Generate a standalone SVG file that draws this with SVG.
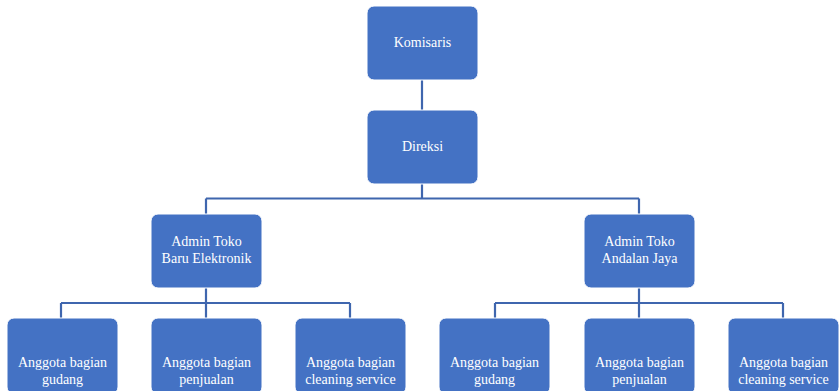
<svg xmlns="http://www.w3.org/2000/svg" width="839" height="391" viewBox="0 0 839 391">
<style>
.box{fill:#4472C4;stroke:#ffffff;stroke-width:1}
.t{font-family:"Liberation Serif","Times New Roman",serif;font-size:14px;fill:#ffffff;text-anchor:middle}
.c{fill:none;stroke:#3F66AE;stroke-width:2.2}
</style>
<g id="connectors">
<path class="c" d="M422,80 V110"/>
<path class="c" d="M422,184 V198.5 M206,198.5 H639 M206,198.5 V214 M639,198.5 V214"/>
<path class="c" d="M206,288 V318 M61,303 H350 M61,303 V318 M350,303 V318"/>
<path class="c" d="M639,288 V318 M495,303 H783 M495,303 V318 M783,303 V318"/>
</g>
<g id="komisaris"><rect class="box" x="367" y="6" width="111" height="74" rx="7"/><text class="t" x="422.5" y="47">Komisaris</text></g>
<g id="direksi"><rect class="box" x="367" y="110" width="111" height="74" rx="7"/><text class="t" x="422.5" y="151">Direksi</text></g>
<g id="admin-baru"><rect class="box" x="151" y="214" width="111" height="74" rx="7"/><text class="t" x="206.5" y="246">Admin Toko</text><text class="t" x="206.5" y="263">Baru Elektronik</text></g>
<g id="admin-andalan"><rect class="box" x="584" y="214" width="111" height="74" rx="7"/><text class="t" x="639.5" y="246">Admin Toko</text><text class="t" x="639.5" y="263">Andalan Jaya</text></g>
<g id="b1"><rect class="box" x="7" y="318" width="111" height="76" rx="7"/><text class="t" x="62.5" y="367">Anggota bagian</text><text class="t" x="62.5" y="384">gudang</text></g>
<g id="b2"><rect class="box" x="151" y="318" width="111" height="76" rx="7"/><text class="t" x="206.5" y="367">Anggota bagian</text><text class="t" x="206.5" y="384">penjualan</text></g>
<g id="b3"><rect class="box" x="295" y="318" width="111" height="76" rx="7"/><text class="t" x="350.5" y="367">Anggota bagian</text><text class="t" x="350.5" y="384">cleaning service</text></g>
<g id="b4"><rect class="box" x="439" y="318" width="111" height="76" rx="7"/><text class="t" x="494.5" y="367">Anggota bagian</text><text class="t" x="494.5" y="384">gudang</text></g>
<g id="b5"><rect class="box" x="584" y="318" width="111" height="76" rx="7"/><text class="t" x="639.5" y="367">Anggota bagian</text><text class="t" x="639.5" y="384">penjualan</text></g>
<g id="b6"><rect class="box" x="728" y="318" width="111" height="76" rx="7"/><text class="t" x="783.5" y="367">Anggota bagian</text><text class="t" x="783.5" y="384">cleaning service</text></g>
</svg>
